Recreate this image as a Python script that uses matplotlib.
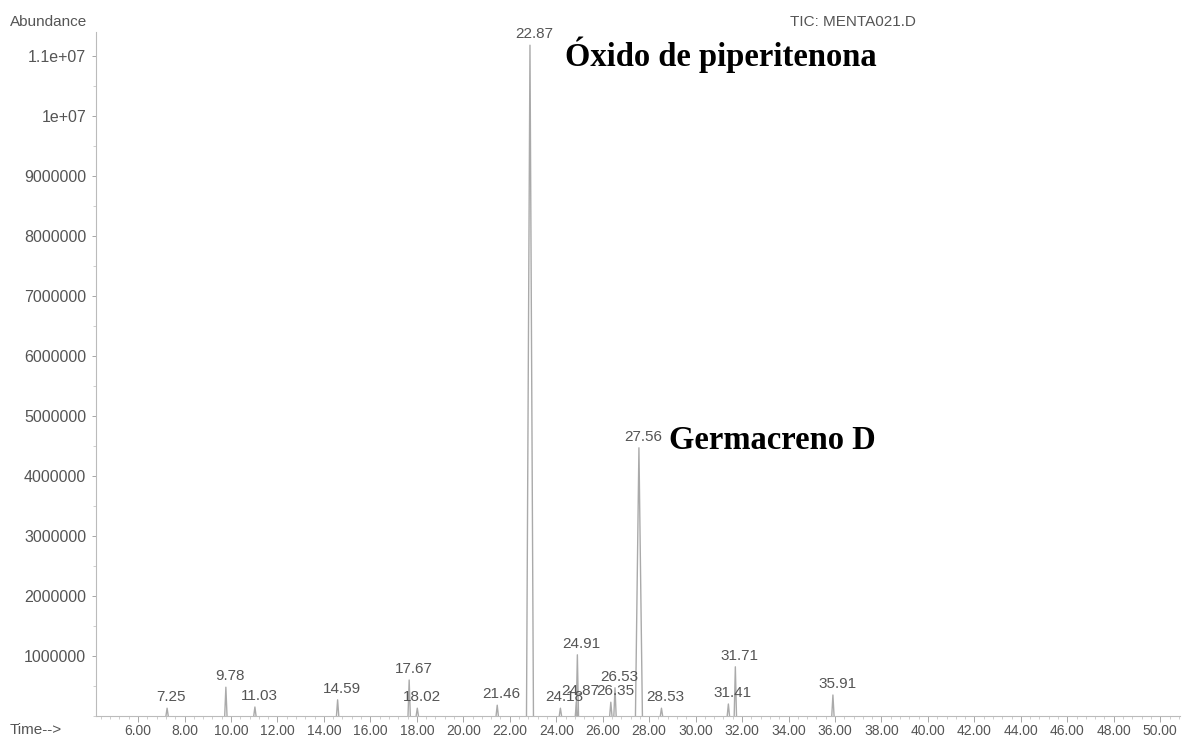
import matplotlib.pyplot as plt
import matplotlib.ticker as ticker

# Picos del cromatograma (tiempo de retencion en min, abundancia)
tiempos = [7.25, 9.78, 11.03, 14.59, 17.67, 18.02, 21.46, 22.87, 24.18,
           24.87, 24.91, 26.35, 26.53, 27.56, 28.53, 31.41, 31.71, 35.91]
abundancias = [0.13e6, 0.48e6, 0.15e6, 0.27e6, 0.60e6, 0.13e6, 0.18e6,
               11.18e6, 0.13e6, 0.23e6, 1.02e6, 0.23e6, 0.47e6, 4.47e6,
               0.13e6, 0.20e6, 0.82e6, 0.35e6]
etiquetas = ['7.25', '9.78', '11.03', '14.59', '17.67', '18.02', '21.46',
             '22.87', '24.18', '24.87', '24.91', '26.35', '26.53', '27.56',
             '28.53', '31.41', '31.71', '35.91']

yticks = [1e6, 2e6, 3e6, 4e6, 5e6, 6e6, 7e6, 8e6, 9e6, 1e7, 1.1e7]
yticklabels = ['1000000', '2000000', '3000000', '4000000', '5000000',
               '6000000', '7000000', '8000000', '9000000', '1e+07', '1.1e+07']
xticks = list(range(6, 51, 2))

gris = '#555555'
plt.rcParams['font.family'] = ['Liberation Sans', 'DejaVu Sans']

fig = plt.figure(figsize=(11.85, 7.40), dpi=100)
ax = fig.add_axes([96/1185, 1-716/740, (1180-96)/1185, (716-32)/740])

# Cada pico como una espiga estrecha
for t, h in zip(tiempos, abundancias):
    w = 0.15 if h > 3e6 else 0.05
    ax.plot([t - w, t, t + w], [0, h, 0], color='#aaaaaa', lw=1.0)

for t, h, lab in zip(tiempos, abundancias, etiquetas):
    ax.annotate(lab, (t, h), xytext=(3, 3), textcoords='offset points',
                ha='center', va='bottom', fontsize=11, color=gris)

# Nombres de los compuestos principales
bold = dict(textcoords='offset points', ha='left', va='center', fontsize=23.5,
            fontweight='bold', family='Liberation Serif', color='black')
ax.annotate('Óxido de piperitenona', (22.87, abundancias[7]), xytext=(25, -7), **bold)
ax.annotate('Germacreno D', (27.56, abundancias[13]), xytext=(22, 5), **bold)

ax.set_xlim(4.19, 50.85)
ax.set_ylim(0, 11.4e6)
ax.set_xticks(xticks)
ax.set_xticklabels(['%.2f' % x for x in xticks])
ax.xaxis.set_minor_locator(ticker.MultipleLocator(0.4))
ax.set_yticks(yticks)
ax.set_yticklabels(yticklabels)
ax.yaxis.set_minor_locator(ticker.MultipleLocator(0.5e6))

for s in ['top', 'right']:
    ax.spines[s].set_visible(False)
for s in ['left', 'bottom']:
    ax.spines[s].set_color('#bbbbbb')
    ax.spines[s].set_linewidth(0.8)

ax.tick_params(axis='x', which='major', length=4, width=0.6, color='#999999',
               labelsize=10, labelcolor=gris, pad=2)
ax.tick_params(axis='y', which='major', length=3, width=0.6, color='#999999',
               labelsize=11.5, labelcolor=gris, pad=4)
ax.tick_params(which='minor', length=2, width=0.5, color='#bbbbbb')

fig.text(10/1185, 1-22/740, 'Abundance', fontsize=11, color=gris, va='center')
fig.text(790/1185, 1-22/740, 'TIC: MENTA021.D', fontsize=11, color=gris, va='center')
fig.text(10/1185, 1-730/740, 'Time-->', fontsize=11, color=gris, va='center')

plt.savefig('out.png', dpi=100)
